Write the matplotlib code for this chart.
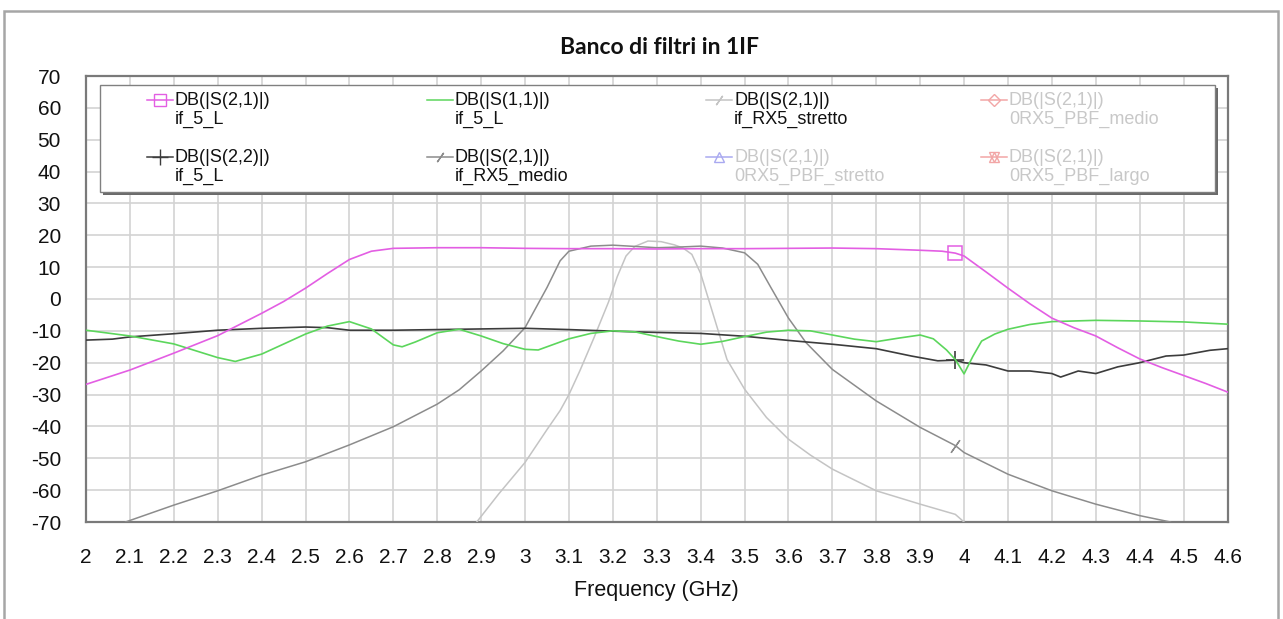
import matplotlib
matplotlib.use("Agg")
import matplotlib.pyplot as plt
from matplotlib.patches import Rectangle
from matplotlib.lines import Line2D

# DB(|S(2,1)|) if_5_L
f_s21 = [2.0, 2.1, 2.2, 2.3, 2.35, 2.4, 2.45, 2.5, 2.55, 2.6, 2.65, 2.7, 2.8, 2.9, 3.0, 3.1, 3.2,
         3.3, 3.4, 3.5, 3.6, 3.7, 3.8, 3.9, 3.95, 3.98, 4.0, 4.05, 4.1, 4.15, 4.2, 4.25, 4.3, 4.35,
         4.4, 4.45, 4.5, 4.55, 4.6]
s21 = [-26.8, -22.3, -17.0, -11.5, -8.0, -4.5, -0.8, 3.4, 8.0, 12.4, 15.0, 15.9, 16.1, 16.1, 15.9,
       15.8, 15.8, 15.7, 15.8, 15.8, 15.9, 16.0, 15.8, 15.3, 15.0, 14.4, 13.5, 8.5, 3.4, -1.5, -6.0,
       -9.0, -11.6, -15.3, -18.8, -21.5, -24.0, -26.5, -29.2]

# DB(|S(1,1)|) if_5_L
f_s11 = [2.0, 2.1, 2.2, 2.3, 2.34, 2.4, 2.5, 2.55, 2.6, 2.65, 2.7, 2.72, 2.75, 2.8, 2.85, 2.9, 2.95,
         3.0, 3.03, 3.1, 3.15, 3.2, 3.25, 3.3, 3.35, 3.4, 3.45, 3.5, 3.55, 3.6, 3.65, 3.7, 3.75, 3.8,
         3.85, 3.9, 3.93, 3.96, 3.98, 4.0, 4.02, 4.04, 4.07, 4.1, 4.15, 4.2, 4.3, 4.4, 4.5, 4.6]
s11 = [-9.8, -11.6, -14.1, -18.4, -19.6, -17.3, -11.0, -8.5, -7.1, -9.4, -14.4, -15.0, -13.5, -10.6,
       -9.5, -11.6, -14.0, -15.8, -16.0, -12.5, -10.8, -10.0, -10.3, -11.8, -13.2, -14.2, -13.3,
       -11.8, -10.4, -9.8, -10.0, -11.3, -12.6, -13.4, -12.3, -11.3, -12.5, -16.0, -19.0, -23.5,
       -18.0, -13.2, -11.0, -9.5, -8.0, -7.1, -6.7, -6.9, -7.2, -7.9]

# DB(|S(2,2)|) if_5_L
f_s22 = [2.0, 2.06, 2.1, 2.2, 2.3, 2.4, 2.5, 2.55, 2.6, 2.7, 2.8, 2.9, 3.0, 3.1, 3.2, 3.3, 3.4, 3.5,
         3.6, 3.7, 3.8, 3.88, 3.94, 3.98, 4.0, 4.05, 4.1, 4.15, 4.2, 4.22, 4.26, 4.3, 4.35, 4.4,
         4.46, 4.5, 4.56, 4.6]
s22 = [-12.9, -12.6, -11.9, -10.9, -9.8, -9.2, -8.8, -9.0, -9.8, -9.8, -9.6, -9.4, -9.2, -9.6,
       -10.1, -10.5, -10.8, -11.7, -13.0, -14.2, -15.6, -17.9, -19.4, -19.2, -20.0, -20.7, -22.6,
       -22.6, -23.4, -24.5, -22.6, -23.4, -21.3, -20.0, -17.9, -17.6, -16.1, -15.6]

# DB(|S(2,1)|) if_RX5_medio
f_medio = [2.09, 2.2, 2.3, 2.4, 2.5, 2.6, 2.7, 2.8, 2.85, 2.9, 2.95, 3.0, 3.05, 3.08, 3.1, 3.15,
           3.2, 3.25, 3.3, 3.35, 3.4, 3.45, 3.5, 3.53, 3.56, 3.6, 3.64, 3.7, 3.8, 3.9, 3.98, 4.0,
           4.1, 4.2, 4.3, 4.4, 4.47]
medio = [-70, -64.7, -60.2, -55.3, -51.1, -45.8, -40.1, -33.0, -28.5, -22.6, -16.3, -9.0, 3.6, 12.0,
         15.0, 16.6, 16.9, 16.5, 16.1, 16.3, 16.6, 16.0, 14.5, 10.9, 3.6, -6.0, -13.7, -22.1, -32.0,
         -40.3, -46.0, -48.2, -55.0, -60.2, -64.4, -68.0, -70]

# DB(|S(2,1)|) if_RX5_stretto
f_stretto = [2.89, 2.94, 3.0, 3.05, 3.08, 3.1, 3.125, 3.156, 3.19, 3.21, 3.23, 3.25, 3.28, 3.31,
             3.34, 3.36, 3.38, 3.4, 3.42, 3.44, 3.46, 3.5, 3.55, 3.6, 3.65, 3.7, 3.8, 3.9, 3.98,
             4.0]
stretto = [-70, -61.2, -51.3, -41.0, -35.0, -30.0, -22.5, -12.5, -1.0, 7.0, 13.5, 16.5, 18.2, 18.0,
           17.0, 16.0, 14.0, 8.0, -1.0, -10.0, -19.0, -28.3, -37.2, -44.0, -49.0, -53.4, -60.2,
           -64.4, -67.6, -70]

x_ticks = [round(2.0 + 0.1 * i, 1) for i in range(27)]
x_labels = ["2", "2.1", "2.2", "2.3", "2.4", "2.5", "2.6", "2.7", "2.8", "2.9", "3", "3.1", "3.2",
            "3.3", "3.4", "3.5", "3.6", "3.7", "3.8", "3.9", "4", "4.1", "4.2", "4.3", "4.4", "4.5",
            "4.6"]
y_ticks = list(range(-70, 71, 10))
marker_f = 3.98

MAG = "#e35ee3"
GRN = "#5cd65c"
BLK = "#3c3c3c"
MED = "#8c8c8c"
STR = "#c4c4c4"

plt.rcParams["font.family"] = ["Liberation Sans", "DejaVu Sans"]
plt.rcParams["axes.unicode_minus"] = False

fig = plt.figure(figsize=(12.83, 6.19), dpi=100)
ax = fig.add_axes([86 / 1283, 1 - 522 / 619, (1227.5 - 86) / 1283, (522 - 76) / 619])

ax.plot(f_stretto, stretto, color=STR, lw=1.1, zorder=3)
ax.plot(f_medio, medio, color=MED, lw=1.1, zorder=3, marker=(2, 2, -35), markersize=11,
        markevery=[f_medio.index(marker_f)], markeredgecolor=MED, markeredgewidth=1.0)
ax.plot(f_s22, s22, color=BLK, lw=1.2, zorder=4, marker="+", markersize=13,
        markevery=[f_s22.index(marker_f)], markeredgewidth=1.2)
ax.plot(f_s11, s11, color=GRN, lw=1.2, zorder=4)
ax.plot(f_s21, s21, color=MAG, lw=1.2, zorder=5, marker="s", markersize=10, fillstyle="none",
        markevery=[f_s21.index(marker_f)], markeredgewidth=1.1)

ax.set_xlim(2.0, 4.6)
ax.set_ylim(-70, 70)
ax.set_xticks(x_ticks)
ax.set_xticklabels(x_labels)
ax.set_yticks(y_ticks)
ax.tick_params(axis="both", length=0, labelsize=15, colors="#111111")
ax.tick_params(axis="x", pad=19)
ax.tick_params(axis="y", pad=18)
ax.grid(True, color="#d3d3d3", lw=1.2)
ax.set_axisbelow(True)
for sp in ax.spines.values():
    sp.set_color("#7a7a7a")
    sp.set_linewidth(1.6)
ax.set_xlabel("Frequency (GHz)", fontsize=15.5, labelpad=9, color="#111111")

fig.text(0.514, 1 - 47 / 619, "Banco di filtri in 1IF", ha="center", va="center",
         fontsize=16.5, fontweight="bold", family=["Lato", "DejaVu Sans"], color="#111111")

# outer frame
fig.add_artist(Rectangle((4 / 1283, -0.05), (1278 - 4) / 1283, 1.05 - 11 / 619,
                         transform=fig.transFigure, fill=False, ec="#a6a6a6", lw=1.8))

# legend box (drawn by hand to match the layout)
def fx(px):
    return (px - 86) / 1141.5


def fy(py):
    return (522 - py) / 446


ax.add_patch(Rectangle((fx(103), fy(195)), fx(1218) - fx(103), fy(88) - fy(195),
                       transform=ax.transAxes, fc="#6a6a6a", ec="none", zorder=7))
ax.add_patch(Rectangle((fx(100), fy(192)), fx(1215) - fx(100), fy(85) - fy(192),
                       transform=ax.transAxes, fc="white", ec="#808080", lw=1.0, zorder=8))

FADE = "#c8c8c8"
entries = [
    # col, row, color, marker, text, text color
    (0, 0, MAG, "s", "DB(|S(2,1)|)\nif_5_L", "#111111"),
    (0, 1, BLK, "+", "DB(|S(2,2)|)\nif_5_L", "#111111"),
    (1, 0, GRN, None, "DB(|S(1,1)|)\nif_5_L", "#111111"),
    (1, 1, MED, (2, 2, -35), "DB(|S(2,1)|)\nif_RX5_medio", "#111111"),
    (2, 0, STR, (2, 2, -35), "DB(|S(2,1)|)\nif_RX5_stretto", "#111111"),
    (2, 1, "#a9a9f0", "^", "DB(|S(2,1)|)\n0RX5_PBF_stretto", FADE),
    (3, 0, "#f2a6a6", "D", "DB(|S(2,1)|)\n0RX5_PBF_medio", FADE),
    (3, 1, "#f2a6a6", "hg", "DB(|S(2,1)|)\n0RX5_PBF_largo", FADE),
]
col_x = [147, 427, 706, 981]
row_y = [100, 157]
for col, row, color, mk, label, tcol in entries:
    x0 = col_x[col]
    y0 = row_y[row]
    ax.add_line(Line2D([fx(x0), fx(x0 + 26)], [fy(y0), fy(y0)], transform=ax.transAxes,
                       color=color, lw=1.1, zorder=9))
    if mk == "hg":
        for m in ["^", "v"]:
            ax.add_line(Line2D([fx(x0 + 13)], [fy(y0)], transform=ax.transAxes, color=color,
                               marker=m, markersize=7, fillstyle="none", lw=0, zorder=9))
    elif mk is not None:
        ms = {"s": 9, "+": 12, "^": 7, "D": 6}.get(mk, 9) if isinstance(mk, str) else 8
        ax.add_line(Line2D([fx(x0 + 13)], [fy(y0)], transform=ax.transAxes, color=color,
                           marker=mk, markersize=ms, fillstyle="none", lw=0,
                           markeredgewidth=1.0, zorder=9))
    ax.text(fx(x0 + 28), fy(y0 + 10), label, transform=ax.transAxes, ha="left", va="center",
            fontsize=13, color=tcol, linespacing=1.12, zorder=10)

fig.savefig("out.png", dpi=100, facecolor="white")
